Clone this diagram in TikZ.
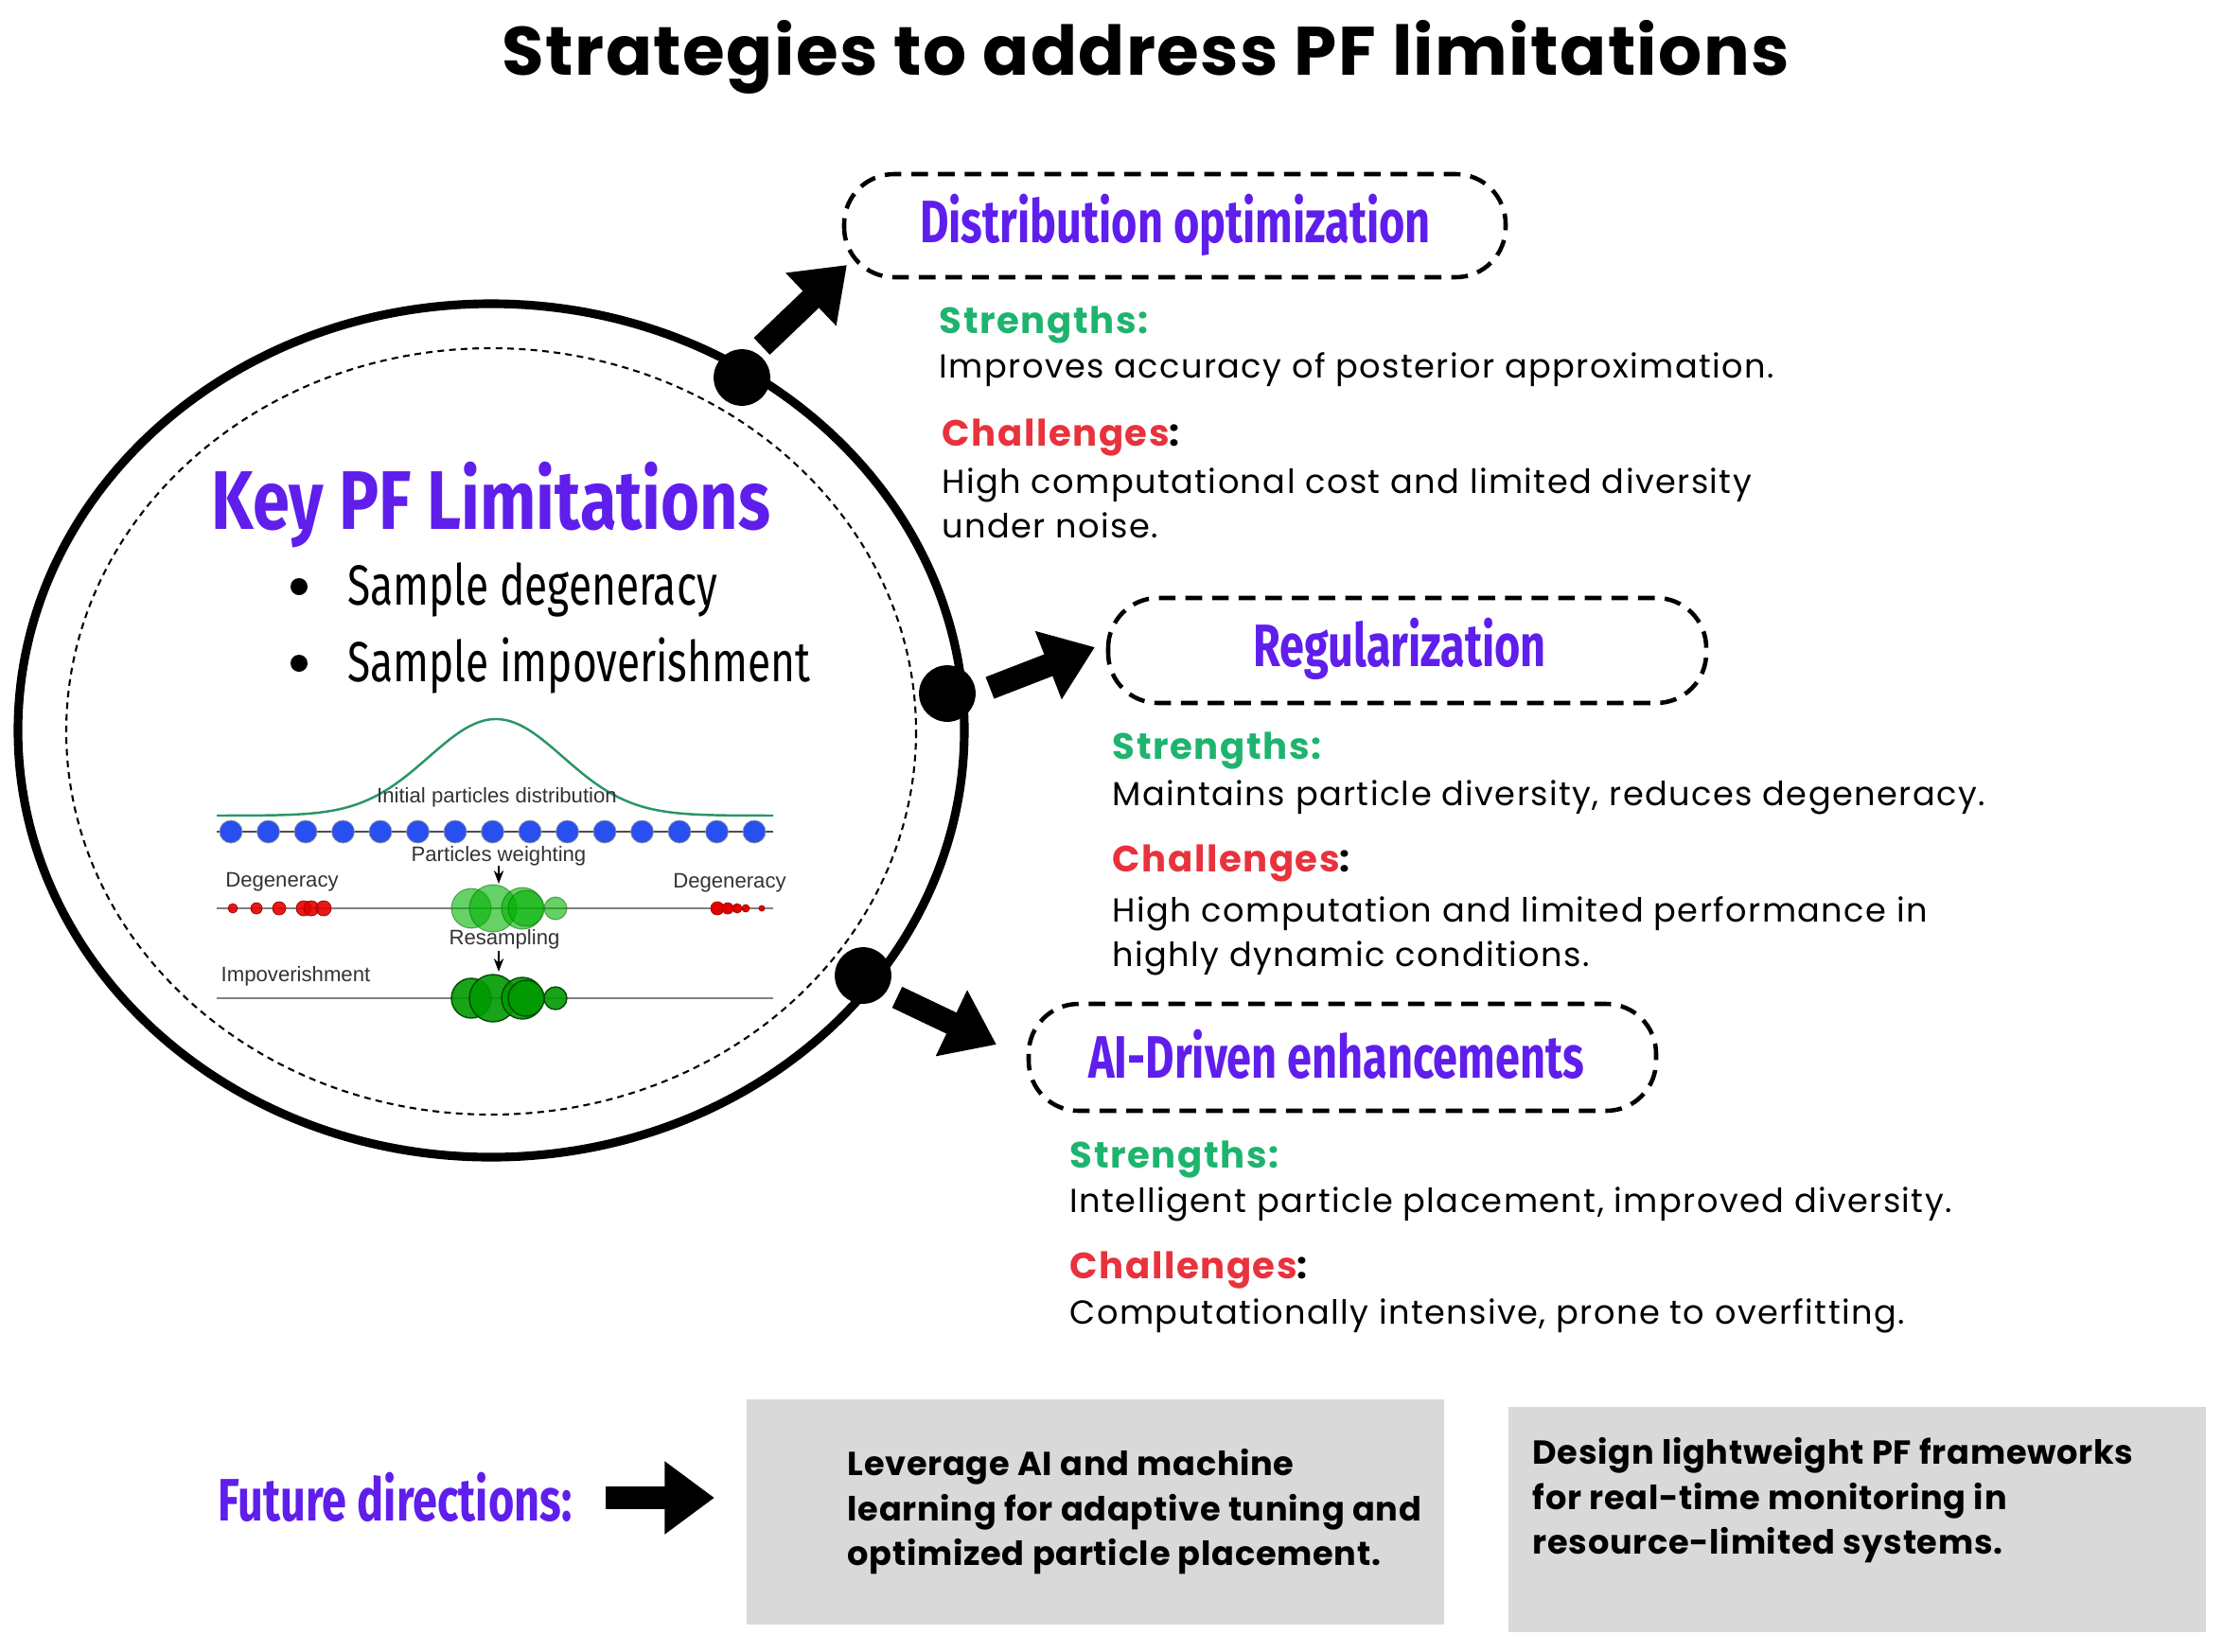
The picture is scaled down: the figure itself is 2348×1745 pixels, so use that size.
\documentclass[tikz,border=0pt]{standalone}
\usepackage{fontspec}
\usepackage{graphicx}
\setmainfont{Liberation Sans}
\newfontfamily\pop{Poppins}[LetterSpace=4]
\newfontfamily\popb{Poppins}[LetterSpace=2]
\newfontfamily\fira{Fira Sans}
\usetikzlibrary{arrows.meta}
\definecolor{pur}{RGB}{95,30,235}
\definecolor{sgreen}{RGB}{30,180,110}
\definecolor{cred}{RGB}{232,50,60}
\definecolor{gbox}{RGB}{217,217,217}
\definecolor{gauss}{RGB}{40,150,100}
\definecolor{pblue}{RGB}{40,80,240}
\tikzset{
  cond/.style={font=\fira\bfseries\fontsize{#1}{#1}\selectfont, text=pur},
  body/.style={font=\pop\fontsize{10}{13.4}\selectfont, anchor=west, inner sep=0},
  hd/.style={body, font=\pop\bfseries\fontsize{11}{12}\selectfont},
  gtext/.style={body, anchor=north west, align=left, font=\popb\bfseries\fontsize{10}{13.4}\selectfont},
  dbox/.style={draw, line width=1.3pt, rounded corners=15pt, dash pattern=on 5pt off 3pt},
  bigarrow/.style={line width=7pt, -{Triangle[length=15pt,width=21pt]}},
  dot/.style={circle, fill=black, minimum size=17pt, inner sep=0},
  small/.style={font=\fontsize{6.3}{7}\selectfont, text=black!80, inner sep=0},
}
\newcommand{\cnd}[1]{\scalebox{0.74}[1]{#1}}
\begin{document}
\begin{tikzpicture}[x=0.01cm,y=-0.01cm]
\useasboundingbox (0,0) rectangle (2348,1745);
\node[font=\popb\bfseries\fontsize{20.6}{24}\selectfont] (title) at (1211,60) {Strategies to address PF limitations};
% circle
\draw[line width=2.6pt] (519,772) ellipse [x radius=500, y radius=451];
\draw[line width=0.6pt, dash pattern=on 2pt off 1.5pt] (519,773) ellipse [x radius=449, y radius=405];
\node[cond=25] (key) at (519,534) {\scalebox{0.8}[1]{Key PF Limitations}};
\node[font=\fira\fontsize{17}{20}\selectfont, anchor=west] (b1) at (355,623) {\cnd{Sample degeneracy}};
\node[font=\fira\fontsize{17}{20}\selectfont, anchor=west] (b2) at (355,704) {\cnd{Sample impoverishment}};
\fill (316,620) circle (9);
\fill (316,701) circle (9);
% particle figure
\draw[gauss, line width=0.7pt] plot[domain=229:817, samples=120, smooth] (\x,{862-102*exp(-((\x-524)/71)^2/2)});
\node[small] (ipd) at (525,843) {Initial particles distribution};
\draw[black!70, line width=0.5pt] (229,879) -- (817,879);
\foreach \i in {0,...,14} \fill[pblue, draw=black!40, line width=0.2pt] ({244+\i*39.5},879) circle (12);
\node[small] (pw) at (527,905) {Particles weighting};
\draw[-{Stealth[length=4pt]}, line width=0.5pt] (527,915) -- (527,934);
\node[small] (d1) at (298,932) {Degeneracy};
\node[small] (d2) at (771,933) {Degeneracy};
\draw[black!50, line width=0.5pt] (229,960) -- (817,960);
\foreach \x/\r in {246/5,271/6,295/7,321/8,329/8,342/8} \fill[red!90!black, draw=red!60!black, line width=0.2pt, fill opacity=0.9] (\x,960) circle (\r);
\foreach \x/\r in {758/7,769/6,779/5,788/4,805/3} \fill[red!90!black, draw=red!60!black, line width=0.2pt] (\x,960) circle (\r);
\foreach \x/\r in {498/21,521/25,552/22,556/19,587/12} \fill[green!70!black, fill opacity=0.6, draw=green!40!black, draw opacity=0.5, line width=0.3pt] (\x,960) circle (\r);
\node[small] (rs) at (533,993) {Resampling};
\draw[-{Stealth[length=4pt]}, line width=0.5pt] (527,1005) -- (527,1027);
\node[small, anchor=west] (imp) at (233,1032) {Impoverishment};
\draw[black!50, line width=0.5pt] (229,1055) -- (817,1055);
\foreach \x/\r in {498/21,521/25,552/22,556/19,587/12} \fill[green!60!black, draw=green!30!black, line width=0.4pt, fill opacity=0.9] (\x,1055) circle (\r);
% dots on circle
\node[dot] (p1) at (784,399) {};
\node[dot] (p2) at (1001,733) {};
\node[dot] (p3) at (912,1031) {};
% boxes
\draw[dbox] (892,184) rectangle (1591,293);
\node[cond=18] (t1) at (1242,238) {\cnd{Distribution optimization}};
\draw[dbox] (1171,632) rectangle (1803,743);
\node[cond=18] (t2) at (1479,686) {\cnd{Regularization}};
\draw[dbox] (1087,1061) rectangle (1750,1174);
\node[cond=18] (t3) at (1412,1114) {\cnd{AI-Driven enhancements}};
% arrows
\coordinate (a1s) at (805,366); \coordinate (a1e) at (895,280);
\coordinate (a2s) at (1046,727); \coordinate (a2e) at (1157,684);
\coordinate (a3s) at (948,1054); \coordinate (a3e) at (1053,1104);
\draw[bigarrow] (a1s) -- (a1e);
\draw[bigarrow] (a2s) -- (a2e);
\draw[bigarrow] (a3s) -- (a3e);
% texts
\node[hd, text=sgreen] at (992,343) {Strengths:};
\node[body] at (992,391) {Improves accuracy of posterior approximation.};
\node[hd] at (995,462) {\textcolor{cred}{Challenges}:};
\node[body, align=left, anchor=north west] at (995,494) {High computational cost and limited diversity\\under noise.};
\node[hd, text=sgreen] at (1175,793) {Strengths:};
\node[body] at (1175,843) {Maintains particle diversity, reduces degeneracy.};
\node[hd] at (1175,912) {\textcolor{cred}{Challenges}:};
\node[body, align=left, anchor=north west] at (1175,947) {High computation and limited performance in\\highly dynamic conditions.};
\node[hd, text=sgreen] at (1130,1225) {Strengths:};
\node[body] at (1130,1273) {Intelligent particle placement, improved diversity.};
\node[hd] at (1130,1342) {\textcolor{cred}{Challenges}:};
\node[body] at (1130,1391) {Computationally intensive, prone to overfitting.};
% future
\node[cond=18, anchor=west, inner sep=0] (fd) at (230,1582) {\cnd{Future directions:}};
\fill[gbox] (789,1479) rectangle (1526,1717);
\fill[gbox] (1594,1487) rectangle (2331,1725);
\node[gtext] (g1t) at (895,1531) {Leverage AI and machine\\learning for adaptive tuning and\\optimized particle placement.};
\node[gtext] (g2t) at (1619,1519) {Design lightweight PF frameworks\\for real-time monitoring in\\resource-limited systems.};
\coordinate (fa) at (640,1583);
\coordinate (fb) at (755,1583);
\draw[bigarrow] (fa) -- (fb);
\end{tikzpicture}
\end{document}
